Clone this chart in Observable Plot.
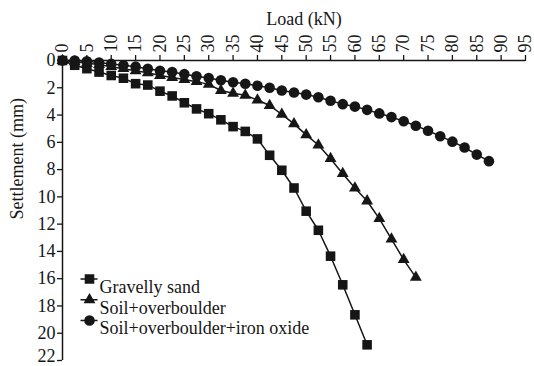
<!DOCTYPE html>
<html>
<head>
<meta charset="utf-8">
<script src="https://cdn.jsdelivr.net/npm/d3@7"></script>
<script src="https://cdn.jsdelivr.net/npm/@observablehq/plot@0.6"></script>
<style>
  html, body { margin: 0; padding: 0; background: #fff; }
  #chart svg { display: block; }
</style>
</head>
<body>
<div id="chart"></div>
<script>
// Load–settlement curves of plate load tests for three ground types.

const loadGravel = [0, 2.5, 5, 7.5, 10, 12.5, 15, 17.5, 20, 22.5, 25, 27.5, 30, 32.5,
  35, 37.5, 40, 42.5, 45, 47.5, 50, 52.5, 55, 57.5, 60, 62.5];
const settleGravel = [0, 0.35, 0.6, 0.85, 1.1, 1.3, 1.7, 1.8, 2.25, 2.6, 3.1, 3.55, 3.9,
  4.35, 4.85, 5.2, 5.75, 6.95, 8.05, 9.35, 11.05, 12.45, 14.35, 16.45, 18.65, 20.85];

const loadBoulder = [0, 2.5, 5, 7.5, 10, 12.5, 15, 17.5, 20, 22.5, 25, 27.5, 30, 32.5,
  35, 37.5, 40, 42.5, 45, 47.5, 50, 52.5, 55, 57.5, 60, 62.5, 65, 67.5, 70, 72.5];
const settleBoulder = [0, 0.1, 0.2, 0.3, 0.45, 0.6, 0.75, 0.9, 1.1, 1.25, 1.4, 1.55, 1.75,
  2.2, 2.4, 2.55, 2.9, 3.3, 3.95, 4.65, 5.45, 6.2, 7.2, 8.3, 9.35, 10.3, 11.6, 13.1, 14.6, 15.9];

const loadIron = [0, 2.5, 5, 7.5, 10, 12.5, 15, 17.5, 20, 22.5, 25, 27.5, 30, 32.5, 35,
  37.5, 40, 42.5, 45, 47.5, 50, 52.5, 55, 57.5, 60, 62.5, 65, 67.5, 70, 72.5, 75, 77.5,
  80, 82.5, 85, 87.5];
const settleIron = [0, 0, 0.05, 0.15, 0.25, 0.35, 0.45, 0.6, 0.75, 0.85, 1.0, 1.15, 1.28,
  1.45, 1.6, 1.7, 1.85, 2.0, 2.2, 2.35, 2.5, 2.7, 2.95, 3.2, 3.38, 3.62, 3.88, 4.15, 4.45,
  4.78, 5.15, 5.55, 5.95, 6.38, 6.9, 7.38];

const seriesNames = ["Gravelly sand", "Soil+overboulder", "Soil+overboulder+iron oxide"];
const xTicks = [0, 5, 10, 15, 20, 25, 30, 35, 40, 45, 50, 55, 60, 65, 70, 75, 80, 85, 90, 95];
const yTicks = [0, 2, 4, 6, 8, 10, 12, 14, 16, 18, 20, 22];

const ink = "#161616";
const serif = "Liberation Serif, Times New Roman, serif";
const textSize = 18;

const series = [
  {name: seriesNames[0], symbol: d3.symbolSquare, r: 5.4, load: loadGravel, settle: settleGravel},
  {name: seriesNames[1], symbol: d3.symbolTriangle, r: 4.4, load: loadBoulder, settle: settleBoulder},
  {name: seriesNames[2], symbol: d3.symbolCircle, r: 5.3, load: loadIron, settle: settleIron}
];

const rows = series.map(s => s.load.map((x, i) => ({load: x, settlement: s.settle[i], name: s.name})));

// Legend glyph: a short line segment with the series marker on top of it.
function withLine(base) {
  return {
    draw(context, size) {
      context.moveTo(-9, -0.8);
      context.lineTo(8, -0.8);
      context.lineTo(8, 0.8);
      context.lineTo(-9, 0.8);
      context.closePath();
      base.draw(context, size);
    }
  };
}

// The bottom-most tick label sits at the lower edge, so it is lifted slightly.
const yLast = yTicks[yTicks.length - 1];

const marks = [
  Plot.axisX({anchor: "top", ticks: xTicks, tickSize: 6, tickPadding: 2, tickRotate: -90,
    label: null, strokeWidth: 1.3, fontSize: textSize}),
  Plot.axisY({anchor: "left", ticks: yTicks, tickSize: 5, tickPadding: 2,
    tickFormat: d => (d === yLast ? "" : d), label: null, strokeWidth: 1.3, fontSize: textSize}),
  Plot.axisY({anchor: "left", ticks: [yLast], tickSize: 0, tickPadding: 7, dy: -4,
    label: null, fontSize: textSize}),
  Plot.ruleY([0], {stroke: ink, strokeWidth: 1.5}),
  Plot.ruleX([0], {stroke: ink, strokeWidth: 1.5}),
  Plot.text(["Load (kN)"], {frameAnchor: "top", dx: 10, dy: -48, fill: ink, fontSize: textSize}),
  Plot.text(["Settlement (mm)"], {frameAnchor: "left", dx: -45, dy: 9, rotate: -90, fill: ink, fontSize: textSize})
];

series.forEach((s, k) => {
  marks.push(Plot.line(rows[k], {x: "load", y: "settlement", stroke: ink, strokeWidth: 1.5}));
  marks.push(Plot.dot(rows[k], {x: "load", y: "settlement", symbol: () => s.symbol, r: s.r, fill: ink, stroke: "none"}));
});

const legendTop = [218.5, 239.3, 260];
series.forEach((s, k) => {
  marks.push(Plot.dot([s.name], {frameAnchor: "top-left", dx: 27, dy: legendTop[k],
    symbol: () => withLine(s.symbol), r: s.r, fill: ink, stroke: "none"}));
  marks.push(Plot.text([s.name], {frameAnchor: "top-left", dx: 37, dy: legendTop[k] + 1,
    textAnchor: "start", fill: ink, fontSize: textSize}));
});

const chart = Plot.plot({
  width: 534,
  height: 366,
  marginTop: 60,
  marginLeft: 62,
  marginRight: 9,
  marginBottom: 6,
  style: {color: ink, background: "#fff", fontFamily: serif, fontSize: textSize + "px"},
  x: {domain: [0, 95]},
  y: {domain: [0, 22], reverse: true},
  symbol: {type: "identity"},
  marks
});

document.getElementById("chart").appendChild(chart);
</script>
</body>
</html>
